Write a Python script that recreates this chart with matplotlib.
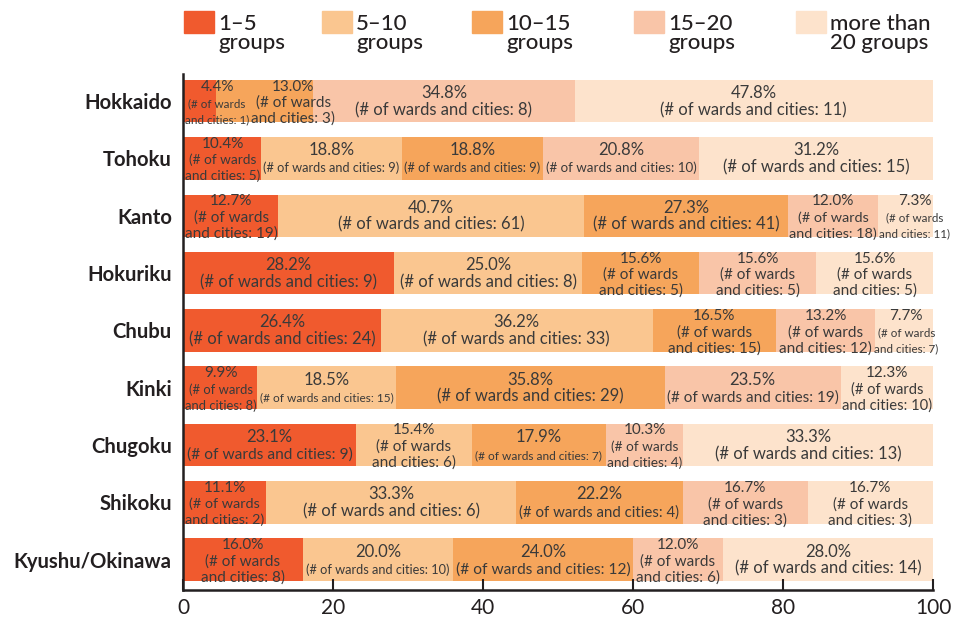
#!/usr/bin/env python3
"""Share of wards and cities by number of groups, per region."""

import matplotlib
matplotlib.use("Agg")
import matplotlib.pyplot as plt
from matplotlib.patches import Rectangle

plt.rcParams["font.family"] = ["Lato", "DejaVu Sans"]

regions = ["Hokkaido", "Tohoku", "Kanto", "Hokuriku", "Chubu",
           "Kinki", "Chugoku", "Shikoku", "Kyushu/Okinawa"]
categories = ["1\u20135\ngroups", "5\u201310\ngroups", "10\u201315\ngroups",
              "15\u201320\ngroups", "more than\n20 groups"]

# percentage per category (columns follow `categories`)
pct = [
    [4.4, 0.0, 13.0, 34.8, 47.8],
    [10.4, 18.8, 18.8, 20.8, 31.2],
    [12.7, 40.7, 27.3, 12.0, 7.3],
    [28.2, 25.0, 15.6, 15.6, 15.6],
    [26.4, 36.2, 16.5, 13.2, 7.7],
    [9.9, 18.5, 35.8, 23.5, 12.3],
    [23.1, 15.4, 17.9, 10.3, 33.3],
    [11.1, 33.3, 22.2, 16.7, 16.7],
    [16.0, 20.0, 24.0, 12.0, 28.0],
]
# number of wards and cities
counts = [
    [1, 0, 3, 8, 11],
    [5, 9, 9, 10, 15],
    [19, 61, 41, 18, 11],
    [9, 8, 5, 5, 5],
    [24, 33, 15, 12, 7],
    [8, 15, 29, 19, 10],
    [9, 6, 7, 4, 13],
    [2, 6, 4, 3, 3],
    [8, 10, 12, 6, 14],
]
colors = ["#F05A2E", "#FAC690", "#F6A55B", "#F9C5A8", "#FDE3CC"]
ink = "#231F20"
label_ink = "#3A3A3A"

fig = plt.figure(figsize=(9.61, 6.18), dpi=100)
ax = fig.add_axes([0.1904, 0.0453, 0.7805, 0.8347])

bar_h = 0.74
for i, row in enumerate(pct):
    left = 0.0
    for j, w in enumerate(row):
        ax.barh(i, w, left=left, height=bar_h, color=colors[j], linewidth=0)
        left += w

ax.set_xlim(0, 100)
ax.set_ylim(8.53, -0.47)
ax.set_yticks(range(len(regions)))
ax.set_yticklabels(regions, fontsize=14.6, fontweight="bold", color=ink)
ax.tick_params(axis="y", length=0, pad=8)
ax.set_xticks([0, 20, 40, 60, 80, 100])
ax.tick_params(axis="x", direction="in", length=8, width=1.5, labelsize=15,
               colors=ink, pad=6)
for s in ["top", "right"]:
    ax.spines[s].set_visible(False)
for s in ["left", "bottom"]:
    ax.spines[s].set_linewidth(1.8)
    ax.spines[s].set_color(ink)

# segment labels: percent line at full size, detail lines shrunk to fit
fig.canvas.draw()
renderer = fig.canvas.get_renderer()
px_per_unit = ax.transData.transform((1, 0))[0] - ax.transData.transform((0, 0))[0]
axis_left_px = ax.transData.transform((0, 0))[0]


def seg_label(x, y, lines, offsets, size, max_w, min_size):
    texts = [ax.annotate(ln, (x, y), xytext=(0, off), textcoords="offset pixels",
                         ha="center", va="baseline", fontsize=size,
                         color=label_ink)
             for ln, off in zip(lines, offsets)]
    detail = texts[1:]
    while size > min_size and max(t.get_window_extent(renderer).width
                                  for t in detail) > max_w:
        size -= 0.2
        for t in detail:
            t.set_fontsize(size)
    return texts


for i, row in enumerate(pct):
    left = 0.0
    prev_right = axis_left_px
    for j, w in enumerate(row):
        if w <= 0:
            continue
        n = counts[i][j]
        seg = w * px_per_unit
        if w >= 17:
            lines = [f"{w:.1f}%", f"(# of wards and cities: {n})"]
            texts = seg_label(left + w / 2, i, lines, [3, -14], 12, seg - 4, 7.5)
        else:
            lines = [f"{w:.1f}%", "(# of wards", f"and cities: {n})"]
            texts = seg_label(left + w / 2, i, lines, [10.5, -6, -22], 11,
                              seg - 2, 8.6)
        # nudge right if the label would run into the axis or its neighbour
        half = max(t.get_window_extent(renderer).width for t in texts) / 2
        cx = ax.transData.transform((left + w / 2, i))[0]
        dx = max(0.0, prev_right + 2 - (cx - half))
        for t in texts:
            t.xyann = (dx, t.xyann[1])
        prev_right = cx + dx + half
        left += w

# legend drawn in figure coordinates
sq_x = [184, 322, 472, 634, 796]
for x, c, lab in zip(sq_x, colors, categories):
    fig.patches.append(Rectangle((x / 961, 1 - 33 / 618), 30 / 961, 22 / 618,
                                 transform=fig.transFigure, color=c))
    fig.text((x + 34) / 961, 1 - 14 / 618, lab, ha="left", va="top",
             fontsize=16, fontweight="medium", color=ink, linespacing=0.92)

fig.savefig("out.png", dpi=100)
